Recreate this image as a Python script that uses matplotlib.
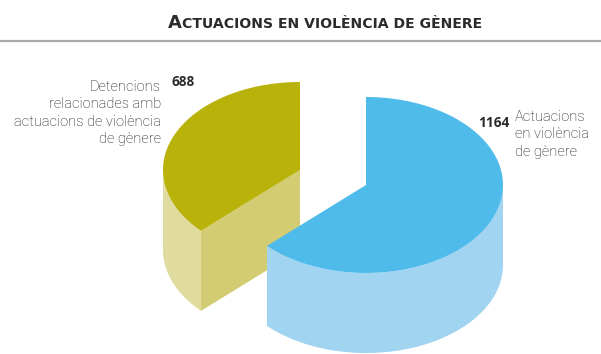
import numpy as np
import matplotlib
matplotlib.use("Agg")
import matplotlib.pyplot as plt
from matplotlib.patches import Polygon

# Slice data, drawn clockwise from 12 o'clock
values = [1164, 688]
value_labels = ["1164", "688"]
labels = [
    "Actuacions\nen violència\nde gènere",
    "Detencions\nrelacionades amb\nactuacions de violència\nde gènere",
]
title = "Actuacions en violència de gènere"

top_colors = ["#4fbbea", "#b8b20b"]
side_colors = ["#a0d4f0", "#e0db9e"]
cut_colors = ["#8cc9ea", "#d4cc72"]

# 3D pie geometry (pixel units)
CX, CY = 366, 185
RX, RY = 137, 88
DEPTH = 80
offsets = [(0, 0), (-66, -15)]  # pulled-out slice

W, H = 601, 354
fig = plt.figure(figsize=(W / 100, H / 100), dpi=100)
ax = fig.add_axes([0, 0, 1, 1])
ax.set_xlim(0, W)
ax.set_ylim(H, 0)
ax.axis("off")


def ellipse_pts(cx, cy, t0, t1, n=120, dy=0):
    t = np.radians(np.linspace(t0, t1, n))
    return np.column_stack([cx + RX * np.cos(t), cy - RY * np.sin(t) + dy])


total = float(sum(values))
spans = [360.0 * v / total for v in values]
starts = 90 - np.concatenate([[0], np.cumsum(spans)[:-1]])

slices = []
for i, (s, sp) in enumerate(zip(starts, spans)):
    a, b = s - sp, s  # counter-clockwise range
    cx = CX + offsets[i][0]
    cy = CY + offsets[i][1]
    slices.append((i, a, b, cx, cy))

# back slice first
for i, a, b, cx, cy in sorted(slices, key=lambda s: s[4]):
    # outer wall, only the front half is visible
    lo, hi = max(a, -180), min(b, 0)
    if hi > lo:
        top = ellipse_pts(cx, cy, lo, hi)
        bot = ellipse_pts(cx, cy, hi, lo, dy=DEPTH)
        ax.add_patch(Polygon(np.vstack([top, bot]), closed=True,
                             fc=side_colors[i], ec="none"))
    # radial cut faces
    for t, visible in ((a, np.cos(np.radians(a)) > 1e-6),
                       (b, np.cos(np.radians(b)) < -1e-6)):
        if visible:
            ex, ey = ellipse_pts(cx, cy, t, t, n=1)[0]
            quad = [(cx, cy), (ex, ey), (ex, ey + DEPTH), (cx, cy + DEPTH)]
            ax.add_patch(Polygon(quad, closed=True, fc=cut_colors[i], ec="none"))
    # top face
    arc = ellipse_pts(cx, cy, a, b)
    ax.add_patch(Polygon(np.vstack([[cx, cy], arc]), closed=True,
                         fc=top_colors[i], ec="none"))

# labels
label_font = dict(family="Roboto", weight="light", fontsize=10.5,
                  color="#111111", linespacing=1.3)
num_font = dict(family="Open Sans", weight="bold", fontsize=9.8, color="#2a2a2a")

ax.text(515, 110, labels[0], ha="left", va="top", **label_font)
ax.text(478, 123, value_labels[0], ha="left", va="center", **num_font)
ax.text(161, 80, labels[1], ha="right", va="top", **label_font)
ax.text(172, 82, value_labels[1], ha="left", va="center", **num_font)

# title in small caps
fig.canvas.draw()
renderer = fig.canvas.get_renderer()
pieces = [(title[0].upper(), 13), (title[1:].upper(), 10.1)]

texts = []
x = 0.0
for s, size in pieces:
    t = ax.text(x, 27.5, s, ha="left", va="baseline", fontsize=size,
                family="DejaVu Sans", weight="bold", color="#2b2b2b")
    w = t.get_window_extent(renderer).width
    texts.append((t, x))
    x += w
x0 = 325 - x / 2
for t, off in texts:
    t.set_x(x0 + off)

ax.axhline(40.5, color="#a8a8a8", lw=1.6)

fig.savefig("out.png", dpi=100)
plt.close(fig)
